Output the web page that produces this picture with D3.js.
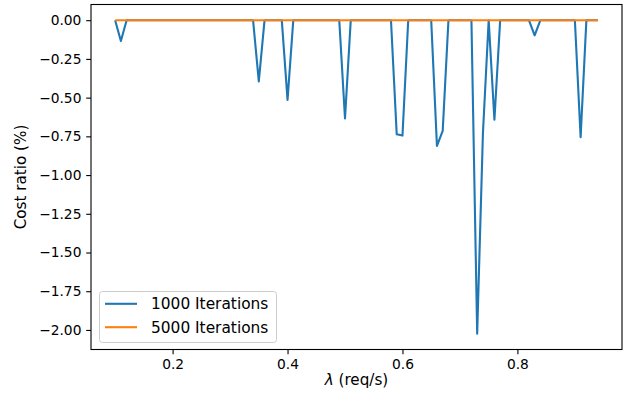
<!DOCTYPE html>
<html>
<head>
<meta charset="utf-8">
<script src="https://d3js.org/d3.v7.min.js"></script>
<style>
  body { margin: 0; background: #fff; }
  text { font-family: "DejaVu Sans", sans-serif; fill: #000; }
  .tick text { font-size: 13.8px; }
  .axistitle { font-size: 15.2px; }
  .legend text { font-size: 15.4px; }
</style>
</head>
<body>
<div id="chart"></div>
<script>
// lambda values (req/s)
var lambdas = [0.10, 0.11, 0.12, 0.13, 0.14, 0.15, 0.16, 0.17, 0.18, 0.19,
  0.20, 0.21, 0.22, 0.23, 0.24, 0.25, 0.26, 0.27, 0.28, 0.29,
  0.30, 0.31, 0.32, 0.33, 0.34, 0.35, 0.36, 0.37, 0.38, 0.39,
  0.40, 0.41, 0.42, 0.43, 0.44, 0.45, 0.46, 0.47, 0.48, 0.49,
  0.50, 0.51, 0.52, 0.53, 0.54, 0.55, 0.56, 0.57, 0.58, 0.59,
  0.60, 0.61, 0.62, 0.63, 0.64, 0.65, 0.66, 0.67, 0.68, 0.69,
  0.70, 0.71, 0.72, 0.73, 0.74, 0.75, 0.76, 0.77, 0.78, 0.79,
  0.80, 0.81, 0.82, 0.83, 0.84, 0.85, 0.86, 0.87, 0.88, 0.89,
  0.90, 0.91, 0.92, 0.93, 0.94];

var iter1000 = [0, -0.135, 0, 0, 0, 0, 0, 0, 0, 0,
  0, 0, 0, 0, 0, 0, 0, 0, 0, 0,
  0, 0, 0, 0, 0, -0.395, 0, 0, 0, 0,
  -0.515, 0, 0, 0, 0, 0, 0, 0, 0, 0,
  -0.635, 0, 0, 0, 0, 0, 0, 0, 0, -0.737,
  -0.745, 0, 0, 0, 0, 0, -0.812, -0.715, 0, 0,
  0, 0, 0, -2.025, -0.73, 0, -0.643, 0, 0, 0,
  0, 0, 0, -0.098, 0, 0, 0, 0, 0, 0,
  0, -0.755, 0, 0, 0];

var iter5000 = [0, 0, 0, 0, 0, 0, 0, 0, 0, 0,
  0, 0, 0, 0, 0, 0, 0, 0, 0, 0,
  0, 0, 0, 0, 0, 0, 0, 0, 0, 0,
  0, 0, 0, 0, 0, 0, 0, 0, 0, 0,
  0, 0, 0, 0, 0, 0, 0, 0, 0, 0,
  0, 0, 0, 0, 0, 0, 0, 0, 0, 0,
  0, 0, 0, 0, 0, 0, 0, 0, 0, 0,
  0, 0, 0, 0, 0, 0, 0, 0, 0, 0,
  0, 0, 0, 0, 0];

var xTicks = [0.2, 0.4, 0.6, 0.8];
var yTicks = [0, -0.25, -0.5, -0.75, -1.0, -1.25, -1.5, -1.75, -2.0];
var seriesNames = ["1000 Iterations", "5000 Iterations"];
var colors = ["#1f77b4", "#ff7f0e"];

var margin = { top: 4.5, right: 8, bottom: 53.5, left: 91 },
  width = 630 - margin.left - margin.right,
  height = 403 - margin.top - margin.bottom;

// matplotlib style 5% margins
var xExt = d3.extent(lambdas), xPad = (xExt[1] - xExt[0]) * 0.05;
var allY = iter1000.concat(iter5000);
var yExt = d3.extent(allY), yPad = (yExt[1] - yExt[0]) * 0.05;

var x = d3.scaleLinear()
  .domain([xExt[0] - xPad, xExt[1] + xPad])
  .range([0, width]);
var y = d3.scaleLinear()
  .domain([yExt[0] - yPad, yExt[1] + yPad])
  .range([height, 0]);

var svg = d3.select("#chart").append("svg")
  .attr("width", 630)
  .attr("height", 403);

var g = svg.append("g")
  .attr("transform", "translate(" + margin.left + "," + margin.top + ")");

var line = d3.line()
  .x(function(d) { return x(d[0]); })
  .y(function(d) { return y(d[1]); });

[iter1000, iter5000].forEach(function(vals, k) {
  var pts = lambdas.map(function(l, i) { return [l, vals[i]]; });
  g.append("path")
    .datum(pts)
    .attr("fill", "none")
    .attr("stroke", colors[k])
    .attr("stroke-width", 2.1)
    .attr("stroke-linejoin", "round")
    .attr("d", line);
});

// axes
var xAxis = g.append("g")
  .attr("transform", "translate(0," + height + ")")
  .call(d3.axisBottom(x).tickValues(xTicks).tickFormat(d3.format(".1f"))
    .tickSizeInner(4.8).tickSizeOuter(0).tickPadding(4.8));

var yAxis = g.append("g")
  .call(d3.axisLeft(y).tickValues(yTicks).tickFormat(d3.format(".2f"))
    .tickSizeInner(4.8).tickSizeOuter(0).tickPadding(4.8));

[xAxis, yAxis].forEach(function(a) {
  a.select(".domain").remove();
  a.selectAll(".tick line").attr("stroke", "#000").attr("stroke-width", 1.1);
  a.selectAll(".tick text").attr("fill", "#000");
});

// frame
g.append("rect")
  .attr("width", width)
  .attr("height", height)
  .attr("fill", "none")
  .attr("stroke", "#000")
  .attr("stroke-width", 1.1);

// axis titles
var xt = svg.append("text")
  .attr("class", "axistitle")
  .attr("text-anchor", "middle")
  .attr("x", margin.left + width / 2)
  .attr("y", 385);
xt.append("tspan").style("font-style", "italic").text("λ");
xt.append("tspan").text(" (req/s)");

svg.append("text")
  .attr("class", "axistitle")
  .attr("text-anchor", "middle")
  .attr("transform", "translate(26," + (margin.top + height / 2) + ") rotate(-90)")
  .text("Cost ratio (%)");

// legend
var legend = g.append("g")
  .attr("class", "legend")
  .attr("transform", "translate(8," + (height - 58.5) + ")");

legend.append("rect")
  .attr("x", 0.5)
  .attr("y", 0.5)
  .attr("width", 177)
  .attr("height", 51)
  .attr("rx", 3)
  .attr("fill", "#fff")
  .attr("fill-opacity", 0.8)
  .attr("stroke", "#cccccc")
  .attr("stroke-width", 1);

var items = legend.selectAll(".item")
  .data(seriesNames)
  .enter()
  .append("g")
  .attr("transform", function(d, i) {
    return "translate(0," + (12.8 + i * 23.4) + ")";
  });

items.append("line")
  .attr("x1", 6)
  .attr("x2", 38)
  .attr("stroke", function(d, i) { return colors[i]; })
  .attr("stroke-width", 2.1);

items.append("text")
  .attr("x", 52)
  .attr("dy", "0.36em")
  .text(function(d) { return d; });
</script>
</body>
</html>
